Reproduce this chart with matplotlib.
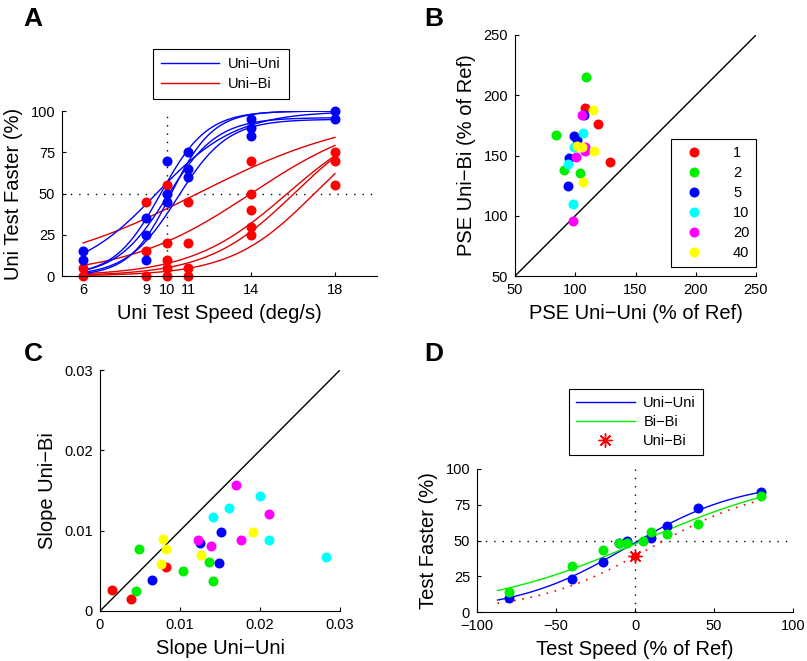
import numpy as np
import matplotlib
matplotlib.use("Agg")
import matplotlib.pyplot as plt
from matplotlib.lines import Line2D

plt.rcParams['font.family'] = ['Liberation Sans', 'DejaVu Sans']
plt.rcParams['axes.linewidth'] = 0.8

# ---------------- Panel A data ----------------
a_speeds = [6, 9, 10, 11, 14, 18]
a_blue_x = [6, 6, 9, 9, 9, 10, 10, 10, 11, 11, 11, 14, 14, 14, 18, 18]
a_blue_y = [15, 10, 35, 25, 10, 70, 50, 45, 75, 65, 60, 95, 90, 85, 100, 95]
a_red_x = [6, 6, 9, 9, 9, 10, 10, 10, 10, 10, 11, 11, 11, 11, 14, 14, 14, 14, 14, 18, 18, 18]
a_red_y = [5, 0, 45, 15, 0, 55, 20, 10, 5, 0, 45, 20, 5, 0, 70, 50, 40, 30, 25, 75, 70, 55]
# fitted psychometric curves (PSE, spread, upper asymptote %)
a_blue_pse = [9.5, 9.7, 10.0, 10.2, 10.5]
a_blue_spread = [1.9, 1.1, 1.2, 1.0, 1.2]
a_blue_upper = [100, 100, 96, 100, 95]
a_red_pse = [11.46, 14.0, 15.73, 16.05, 17.02]
a_red_spread = [3.94, 3.0, 2.29, 2.06, 1.99]
a_red_upper = [100, 100, 100, 100, 100]

# ---------------- Panel B data ----------------
b_groups = ['1', '2', '5', '10', '20', '40']
b_colors = ['#ff0000', '#00ee00', '#0000ff', '#00ffff', '#ff00ff', '#ffff00']
b_x = {
    '1': [108.1, 119.2, 128.8],
    '2': [108.6, 84.0, 91.0, 104.0],
    '5': [107.3, 99.0, 101.7, 94.8, 94.3],
    '10': [106.2, 99.0, 93.7, 97.9],
    '20': [105.3, 108.0, 108.0, 100.6, 98.4],
    '40': [115.0, 101.7, 105.3, 115.8, 106.2],
}
b_y = {
    '1': [189.7, 175.9, 144.9],
    '2': [214.9, 166.7, 138.2, 135.2],
    '5': [183.6, 166.2, 162.9, 147.6, 124.7],
    '10': [168.4, 157.3, 143.0, 109.8],
    '20': [183.6, 157.3, 154.0, 149.0, 95.4],
    '40': [187.8, 157.9, 157.3, 153.7, 127.7],
}

# ---------------- Panel C data ----------------
c_x = {
    '1': [0.00154, 0.00388, 0.00825],
    '2': [0.00446, 0.00492, 0.0104, 0.01358, 0.01417],
    '5': [0.00646, 0.0125, 0.01483, 0.01513],
    '10': [0.01417, 0.01608, 0.0200, 0.02108, 0.02821],
    '20': [0.0123, 0.01383, 0.01704, 0.01763, 0.02117],
    '40': [0.00758, 0.00788, 0.00825, 0.0126, 0.01908],
}
c_y = {
    '1': [0.00258, 0.0015, 0.0055],
    '2': [0.0025, 0.00775, 0.00504, 0.00608, 0.00379],
    '5': [0.00383, 0.0085, 0.00596, 0.00988],
    '10': [0.01171, 0.01288, 0.01429, 0.00879, 0.00667],
    '20': [0.00879, 0.00808, 0.01567, 0.00879, 0.01213],
    '40': [0.00583, 0.00896, 0.00771, 0.00696, 0.00988],
}

# ---------------- Panel D data ----------------
d_blue_x = [-80, -40, -20, -10, -5, 10, 20, 40, 80]
d_blue_y = [10, 23, 35, 48, 50, 52, 60, 73, 84]
d_green_x = [-80, -40, -20, -10, -5, 5, 10, 20, 40, 80]
d_green_y = [14, 32, 43.4, 48.6, 48, 49.5, 55.9, 54.5, 61.7, 81]
d_unibi_x = [0]
d_unibi_y = [39]
# fitted curves: (PSE, spread, upper asymptote %)
d_blue_fit = (-4, 36, 92)
d_green_fit = (5, 53, 100)
d_red_fit = (10, 37, 90)


def logistic(x, pse, spread, upper):
    return upper / (1 + np.exp(-(x - pse) / spread))


fig = plt.figure(figsize=(8.07, 6.61), dpi=100)
W, H = 807, 661


def add_ax(x0, x1, y0, y1):
    return fig.add_axes([x0 / W, 1 - y1 / H, (x1 - x0) / W, (y1 - y0) / H])


def style(ax):
    ax.spines['top'].set_visible(False)
    ax.spines['right'].set_visible(False)
    ax.tick_params(direction='in', length=3, width=0.8, labelsize=10.5, pad=5)


ms = 7.2
LBL = 14.5
XPAD = 5
YPAD = 5

# ---------- A ----------
axA = add_ax(62, 377, 111, 276)
style(axA)
axA.plot([5, 20], [50, 50], color='k', ls=(0, (1, 5)), lw=1)
axA.plot([10, 10], [0, 100], color='k', ls=(0, (1, 5)), lw=1)
xx = np.linspace(6, 18, 200)
for p, s, u in zip(a_red_pse, a_red_spread, a_red_upper):
    axA.plot(xx, logistic(xx, p, s, u), color='#e00000', lw=1)
for p, s, u in zip(a_blue_pse, a_blue_spread, a_blue_upper):
    axA.plot(xx, logistic(xx, p, s, u), color='#0000ff', lw=1)
axA.plot(a_red_x, a_red_y, 'o', color='#ff0000', ms=ms, mec='none', clip_on=False)
axA.plot(a_blue_x, a_blue_y, 'o', color='#0000ff', ms=ms, mec='none', clip_on=False)
axA.set_xlim(5, 20)
axA.set_ylim(0, 100)
axA.set_xticks(a_speeds)
axA.set_yticks([0, 25, 50, 75, 100])
axA.set_xlabel('Uni Test Speed (deg/s)', fontsize=LBL, labelpad=XPAD)
axA.set_ylabel('Uni Test Faster (%)', fontsize=LBL, labelpad=YPAD)
legA = axA.legend(handles=[Line2D([], [], color='#0000ff', lw=1),
                           Line2D([], [], color='#e00000', lw=1)],
                  labels=['Uni\u2212Uni', 'Uni\u2212Bi'],
                  loc='upper left', bbox_to_anchor=(153 / W, 1 - 49 / H),
                  bbox_transform=fig.transFigure, fontsize=10.5, handlelength=4.0,
                  fancybox=False, edgecolor='k', framealpha=1, borderaxespad=0,
                  labelspacing=0.42, borderpad=0.55, handletextpad=0.6)
legA.get_frame().set_linewidth(0.8)
fig.text(33 / W, 1 - 19 / H, 'A', fontsize=19, fontweight='bold', ha='center', va='center')

# ---------- B ----------
axB = add_ax(515, 756, 35, 276)
style(axB)
axB.plot([50, 250], [50, 250], color='k', lw=1)
for g, c in zip(b_groups, b_colors):
    axB.plot(b_x[g], b_y[g], 'o', color=c, ms=ms, mec='none', label=g)
axB.set_xlim(50, 250)
axB.set_ylim(50, 250)
axB.set_xticks([50, 100, 150, 200, 250])
axB.set_yticks([50, 100, 150, 200, 250])
axB.set_xlabel('PSE Uni\u2212Uni (% of Ref)', fontsize=LBL, labelpad=XPAD)
axB.set_ylabel('PSE Uni\u2212Bi (% of Ref)', fontsize=LBL, labelpad=YPAD)
legB = axB.legend(loc='lower right', bbox_to_anchor=(756 / W, 1 - 267 / H),
                  bbox_transform=fig.transFigure, fontsize=10.5, handlelength=2.2,
                  fancybox=False, edgecolor='k', framealpha=1, borderaxespad=0,
                  labelspacing=0.42, borderpad=0.45, handletextpad=1.6, numpoints=1)
legB.get_frame().set_linewidth(0.8)
fig.text(434 / W, 1 - 19 / H, 'B', fontsize=19, fontweight='bold', ha='center', va='center')

# ---------- C ----------
axC = add_ax(100, 340, 370, 611)
style(axC)
axC.plot([0, 0.03], [0, 0.03], color='k', lw=1)
for g, c in zip(b_groups, b_colors):
    axC.plot(c_x[g], c_y[g], 'o', color=c, ms=ms, mec='none')
axC.set_xlim(0, 0.03)
axC.set_ylim(0, 0.03)
axC.set_xticks([0, 0.01, 0.02, 0.03])
axC.set_yticks([0, 0.01, 0.02, 0.03])
axC.set_xticklabels(['0', '0.01', '0.02', '0.03'])
axC.set_yticklabels(['0', '0.01', '0.02', '0.03'])
axC.set_xlabel('Slope Uni\u2212Uni', fontsize=LBL, labelpad=XPAD)
axC.set_ylabel('Slope Uni\u2212Bi', fontsize=LBL, labelpad=YPAD)
fig.text(33 / W, 1 - 354 / H, 'C', fontsize=19, fontweight='bold', ha='center', va='center')

# ---------- D ----------
axD = add_ax(477, 793, 469, 612)
style(axD)
axD.plot([-100, 100], [50, 50], color='k', ls=(0, (1, 5)), lw=1)
axD.plot([0, 0], [0, 100], color='k', ls=(0, (1, 5)), lw=1)
xd = np.linspace(-87, 80, 200)
axD.plot(xd, logistic(xd, *d_red_fit), color='#ff0000', ls=(0, (1, 4)), lw=1.2)
axD.plot(xd, logistic(xd, *d_blue_fit), color='#0000ff', lw=1)
axD.plot(xd, logistic(xd, *d_green_fit), color='#00ee00', lw=1)
axD.plot(d_blue_x, d_blue_y, 'o', color='#0000ff', ms=ms, mec='none')
axD.plot(d_green_x, d_green_y, 'o', color='#00ee00', ms=ms, mec='none')
axD.plot(d_unibi_x, d_unibi_y, 'o', color='#ff0000', ms=6, mec='none')
axD.plot(d_unibi_x, d_unibi_y, marker=(8, 2, 0), color='#ff0000', ms=10, mew=1, ls='none')
axD.set_xlim(-100, 100)
axD.set_ylim(0, 100)
axD.set_xticks([-100, -50, 0, 50, 100])
axD.set_xticklabels(['\u2212100', '\u221250', '0', '50', '100'])
axD.set_yticks([0, 25, 50, 75, 100])
axD.set_xlabel('Test Speed (% of Ref)', fontsize=LBL, labelpad=XPAD)
axD.set_ylabel('Test Faster (%)', fontsize=LBL, labelpad=YPAD)
legD = axD.legend(handles=[Line2D([], [], color='#0000ff', lw=1),
                           Line2D([], [], color='#00ee00', lw=1),
                           Line2D([], [], color='#ff0000', marker=(8, 2, 0), ms=10, mew=1, ls='none')],
                  labels=['Uni\u2212Uni', 'Bi\u2212Bi', 'Uni\u2212Bi'],
                  loc='upper left', bbox_to_anchor=(569 / W, 1 - 389 / H),
                  bbox_transform=fig.transFigure, fontsize=10.5, handlelength=4.0,
                  fancybox=False, edgecolor='k', framealpha=1, borderaxespad=0,
                  labelspacing=0.32, borderpad=0.5, handletextpad=0.6)
legD.get_frame().set_linewidth(0.8)
fig.text(434 / W, 1 - 354 / H, 'D', fontsize=19, fontweight='bold', ha='center', va='center')

fig.savefig('out.png', dpi=100)
